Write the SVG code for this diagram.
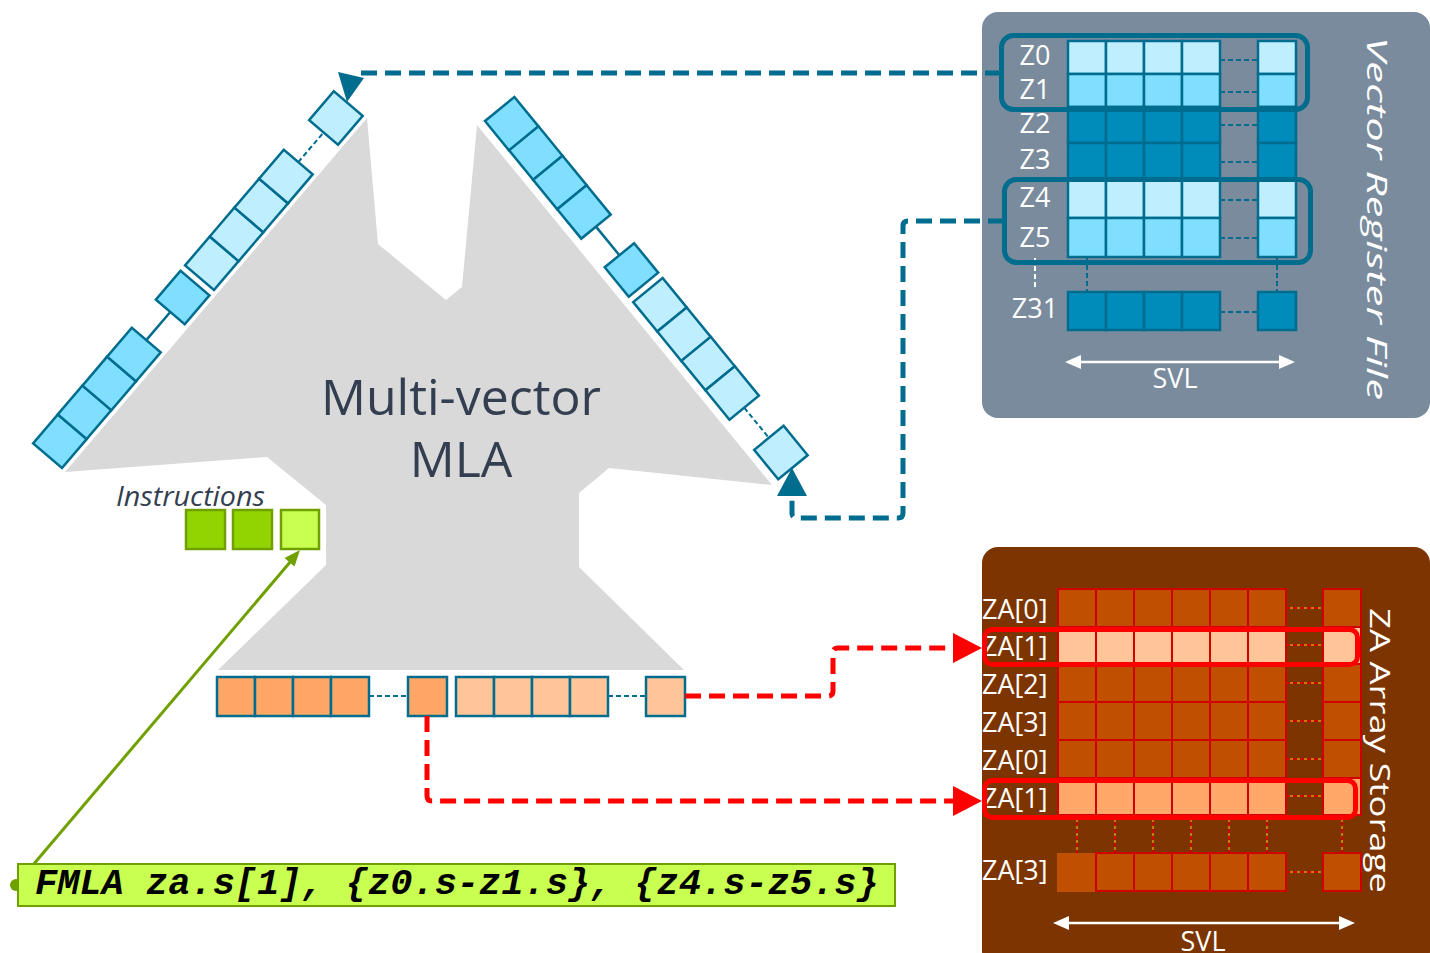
<svg xmlns="http://www.w3.org/2000/svg" width="1430" height="953" viewBox="0 0 1430 953">
<style>
.vl{fill:#BFEFFF;stroke:#006C8E;stroke-width:2.5}
.vm{fill:#80DFFF;stroke:#006C8E;stroke-width:2.5}
.vd{fill:#008CBA;stroke:#006C8E;stroke-width:2.5}
.ol{fill:#FFC599;stroke:#006C8E;stroke-width:2.5}
.od{fill:#FFA766;stroke:#006C8E;stroke-width:2.5}
.bd{fill:none;stroke:#006C8E;stroke-width:2;stroke-dasharray:5 3}
.bs{fill:none;stroke:#006C8E;stroke-width:2.5}
.wl{font-family:"Open Sans","Liberation Sans",sans-serif;fill:#FFFFFF;font-size:27px}
.za{fill:#C05000;stroke:#D00000;stroke-width:2}
.zal{fill:#FFC599;stroke:#D00000;stroke-width:2}
.zam{fill:#FFA86A;stroke:#D00000;stroke-width:2}
.rd{fill:none;stroke:#D00000;stroke-width:2;stroke-dasharray:4 3}
.hl{fill:none;stroke:#FF0000;stroke-width:5}
.bconn{fill:none;stroke:#006C8E;stroke-width:5;stroke-dasharray:16 8}
.rconn{fill:none;stroke:#FF0000;stroke-width:5;stroke-dasharray:16 8}
.ins{stroke:#70A000;stroke-width:2.5}
.dark{font-family:"Open Sans","Liberation Sans",sans-serif;fill:#333F50}
</style>
<defs>
<g id="strip">
<rect class="vm" x="0" y="-38" width="38" height="38"/>
<rect class="vm" x="38" y="-38" width="38" height="38"/>
<rect class="vm" x="76" y="-38" width="38" height="38"/>
<rect class="vm" x="114" y="-38" width="38" height="38"/>
<path class="bs" d="M152,-19 H189"/>
<rect class="vm" x="189" y="-38" width="38" height="38"/>
<rect class="vl" x="234" y="-38" width="38" height="38"/>
<rect class="vl" x="272" y="-38" width="38" height="38"/>
<rect class="vl" x="310" y="-38" width="38" height="38"/>
<rect class="vl" x="348" y="-38" width="38" height="38"/>
<path class="bd" d="M386,-19 H425"/>
<rect class="vl" x="425" y="-38" width="38" height="38"/>
</g>
</defs>

<g id="mla-core">
<polygon fill="#D9D9D9" points="65,472 367,118 378,244 446,300 462,287 477,125 772,485 609,468 579,493 579,567 684,670 218,670 326,565 326,505 267,457"/>
<text class="dark" x="461" y="415" font-size="50" text-anchor="middle">Multi-vector</text>
<text class="dark" x="461" y="477" font-size="50" text-anchor="middle">MLA</text>
</g>

<g id="vector-register-file">
<rect x="982" y="12" width="448" height="406" rx="16" fill="#7A8B9D"/>
<g>
<rect class="vl" x="1068" y="41" width="38" height="33"/><rect class="vl" x="1106" y="41" width="38" height="33"/><rect class="vl" x="1144" y="41" width="38" height="33"/><rect class="vl" x="1182" y="41" width="38" height="33"/><rect class="vl" x="1258" y="41" width="38" height="33"/>
<rect class="vm" x="1068" y="74" width="38" height="33"/><rect class="vm" x="1106" y="74" width="38" height="33"/><rect class="vm" x="1144" y="74" width="38" height="33"/><rect class="vm" x="1182" y="74" width="38" height="33"/><rect class="vm" x="1258" y="74" width="38" height="33"/>
<rect class="vd" x="1068" y="107" width="38" height="36"/><rect class="vd" x="1106" y="107" width="38" height="36"/><rect class="vd" x="1144" y="107" width="38" height="36"/><rect class="vd" x="1182" y="107" width="38" height="36"/><rect class="vd" x="1258" y="107" width="38" height="36"/>
<rect class="vd" x="1068" y="143" width="38" height="36"/><rect class="vd" x="1106" y="143" width="38" height="36"/><rect class="vd" x="1144" y="143" width="38" height="36"/><rect class="vd" x="1182" y="143" width="38" height="36"/><rect class="vd" x="1258" y="143" width="38" height="36"/>
<rect class="vl" x="1068" y="179" width="38" height="39"/><rect class="vl" x="1106" y="179" width="38" height="39"/><rect class="vl" x="1144" y="179" width="38" height="39"/><rect class="vl" x="1182" y="179" width="38" height="39"/><rect class="vl" x="1258" y="179" width="38" height="39"/>
<rect class="vm" x="1068" y="218" width="38" height="39"/><rect class="vm" x="1106" y="218" width="38" height="39"/><rect class="vm" x="1144" y="218" width="38" height="39"/><rect class="vm" x="1182" y="218" width="38" height="39"/><rect class="vm" x="1258" y="218" width="38" height="39"/>
<rect class="vd" x="1068" y="292" width="38" height="38"/><rect class="vd" x="1106" y="292" width="38" height="38"/><rect class="vd" x="1144" y="292" width="38" height="38"/><rect class="vd" x="1182" y="292" width="38" height="38"/><rect class="vd" x="1258" y="292" width="38" height="38"/>
</g>
<path class="bd" d="M1220,60 H1258 M1220,92 H1258 M1220,125 H1258 M1220,162 H1258 M1220,200 H1258 M1220,238 H1258 M1220,312 H1258 M1087,257 V292 M1277,257 V292"/>
<path d="M1035,258 V290" fill="none" stroke="#FFFFFF" stroke-width="2" stroke-dasharray="5 3"/>
<text class="wl" x="1035" y="65" text-anchor="middle">Z0</text>
<text class="wl" x="1035" y="99" text-anchor="middle">Z1</text>
<text class="wl" x="1035" y="133" text-anchor="middle">Z2</text>
<text class="wl" x="1035" y="169" text-anchor="middle">Z3</text>
<text class="wl" x="1035" y="207" text-anchor="middle">Z4</text>
<text class="wl" x="1035" y="247" text-anchor="middle">Z5</text>
<text class="wl" x="1035" y="318" text-anchor="middle">Z31</text>
<rect x="1001.5" y="35.5" width="306" height="74" rx="12" fill="none" stroke="#006C8E" stroke-width="5"/>
<rect x="1004.5" y="179.5" width="306" height="83" rx="12" fill="none" stroke="#006C8E" stroke-width="5"/>
<path d="M1078,362 H1282" stroke="#FFFFFF" stroke-width="2.5"/>
<polygon fill="#FFFFFF" points="1065,362 1081,355 1081,369"/>
<polygon fill="#FFFFFF" points="1295,362 1279,355 1279,369"/>
<text class="wl" x="1175" y="388" font-size="24" text-anchor="middle">SVL</text>
<text class="wl" transform="translate(1367,37) rotate(90)" font-size="43" font-style="italic" textLength="363" lengthAdjust="spacingAndGlyphs">Vector Register File</text>
</g>

<g id="za-array-storage">
<rect x="982" y="547" width="448" height="420" rx="16" fill="#7C3400"/>
<g>
<rect class="za" x="1058" y="589" width="38" height="38"/><rect class="za" x="1096" y="589" width="38" height="38"/><rect class="za" x="1134" y="589" width="38" height="38"/><rect class="za" x="1172" y="589" width="38" height="38"/><rect class="za" x="1210" y="589" width="38" height="38"/><rect class="za" x="1248" y="589" width="38" height="38"/><rect class="za" x="1323" y="589" width="38" height="38"/>
<rect class="zal" x="1058" y="627" width="38" height="37"/><rect class="zal" x="1096" y="627" width="38" height="37"/><rect class="zal" x="1134" y="627" width="38" height="37"/><rect class="zal" x="1172" y="627" width="38" height="37"/><rect class="zal" x="1210" y="627" width="38" height="37"/><rect class="zal" x="1248" y="627" width="38" height="37"/><rect class="zal" x="1323" y="627" width="38" height="37"/>
<rect class="za" x="1058" y="664" width="38" height="38"/><rect class="za" x="1096" y="664" width="38" height="38"/><rect class="za" x="1134" y="664" width="38" height="38"/><rect class="za" x="1172" y="664" width="38" height="38"/><rect class="za" x="1210" y="664" width="38" height="38"/><rect class="za" x="1248" y="664" width="38" height="38"/><rect class="za" x="1323" y="664" width="38" height="38"/>
<rect class="za" x="1058" y="702" width="38" height="38"/><rect class="za" x="1096" y="702" width="38" height="38"/><rect class="za" x="1134" y="702" width="38" height="38"/><rect class="za" x="1172" y="702" width="38" height="38"/><rect class="za" x="1210" y="702" width="38" height="38"/><rect class="za" x="1248" y="702" width="38" height="38"/><rect class="za" x="1323" y="702" width="38" height="38"/>
<rect class="za" x="1058" y="740" width="38" height="38"/><rect class="za" x="1096" y="740" width="38" height="38"/><rect class="za" x="1134" y="740" width="38" height="38"/><rect class="za" x="1172" y="740" width="38" height="38"/><rect class="za" x="1210" y="740" width="38" height="38"/><rect class="za" x="1248" y="740" width="38" height="38"/><rect class="za" x="1323" y="740" width="38" height="38"/>
<rect class="zam" x="1058" y="778" width="38" height="37"/><rect class="zam" x="1096" y="778" width="38" height="37"/><rect class="zam" x="1134" y="778" width="38" height="37"/><rect class="zam" x="1172" y="778" width="38" height="37"/><rect class="zam" x="1210" y="778" width="38" height="37"/><rect class="zam" x="1248" y="778" width="38" height="37"/><rect class="zam" x="1323" y="778" width="38" height="37"/>
<rect x="1057" y="853" width="39" height="39" fill="#C05000"/><rect class="za" x="1096" y="853" width="38" height="38"/><rect class="za" x="1134" y="853" width="38" height="38"/><rect class="za" x="1172" y="853" width="38" height="38"/><rect class="za" x="1210" y="853" width="38" height="38"/><rect class="za" x="1248" y="853" width="38" height="38"/><rect class="za" x="1323" y="853" width="38" height="38"/>
</g>
<path d="M1286,608 H1323 M1286,645 H1323 M1286,683 H1323 M1286,721 H1323 M1286,759 H1323 M1286,796 H1323 M1286,872 H1323 M1077,815 V853 M1115,815 V853 M1153,815 V853 M1191,815 V853 M1229,815 V853 M1267,815 V853 M1342,815 V853" fill="none" stroke="#FFD000" stroke-width="1"/>
<path class="rd" d="M1286,608 H1323 M1286,645 H1323 M1286,683 H1323 M1286,721 H1323 M1286,759 H1323 M1286,796 H1323 M1286,872 H1323 M1077,815 V853 M1115,815 V853 M1153,815 V853 M1191,815 V853 M1229,815 V853 M1267,815 V853 M1342,815 V853"/>
<text class="wl" x="982" y="619">ZA[0]</text>
<text class="wl" x="982" y="656">ZA[1]</text>
<text class="wl" x="982" y="694">ZA[2]</text>
<text class="wl" x="982" y="732">ZA[3]</text>
<text class="wl" x="982" y="770">ZA[0]</text>
<text class="wl" x="982" y="808">ZA[1]</text>
<text class="wl" x="982" y="880">ZA[3]</text>
<rect class="hl" x="984.5" y="629.5" width="373" height="35" rx="8"/>
<rect class="hl" x="984.5" y="780.5" width="371" height="37" rx="8"/>
<path d="M1067,923 H1341" stroke="#FFFFFF" stroke-width="2.5"/>
<polygon fill="#FFFFFF" points="1053,923 1069,916 1069,930"/>
<polygon fill="#FFFFFF" points="1355,923 1339,916 1339,930"/>
<text class="wl" x="1203" y="951" font-size="24" text-anchor="middle">SVL</text>
<text class="wl" transform="translate(1370,608) rotate(90)" font-size="38" textLength="285" lengthAdjust="spacingAndGlyphs">ZA Array Storage</text>
</g>

<g id="left-vector-strip">
<use href="#strip" transform="translate(62,468) rotate(-49.5)"/>
</g>

<g id="right-vector-strip">
<use href="#strip" transform="translate(485,121) rotate(50.7)"/>
</g>

<g id="output-strip">
<rect class="od" x="217" y="677" width="38" height="39"/>
<rect class="od" x="255" y="677" width="38" height="39"/>
<rect class="od" x="293" y="677" width="38" height="39"/>
<rect class="od" x="331" y="677" width="38" height="39"/>
<path class="bd" d="M369,696 H408"/>
<rect class="od" x="408" y="677" width="39" height="39"/>
<rect class="ol" x="456" y="677" width="38" height="39"/>
<rect class="ol" x="494" y="677" width="38" height="39"/>
<rect class="ol" x="532" y="677" width="38" height="39"/>
<rect class="ol" x="570" y="677" width="38" height="39"/>
<path class="bd" d="M608,696 H646"/>
<rect class="ol" x="646" y="677" width="39" height="39"/>
</g>

<g id="instruction-queue">
<text class="dark" x="116" y="506" font-size="27" font-style="italic" textLength="149" lengthAdjust="spacingAndGlyphs">Instructions</text>
<rect class="ins" x="186" y="510" width="39" height="39" fill="#92D400"/>
<rect class="ins" x="233" y="510" width="39" height="39" fill="#92D400"/>
<rect class="ins" x="281" y="510" width="38" height="39" fill="#C8FF50"/>
</g>

<g id="connectors">
<path class="bconn" d="M1001,73 H354"/>
<polygon fill="#006C8E" points="338,72 364,78 347,102"/>
<path class="bconn" d="M1004,221 H908 Q903,221 903,226 V513 Q903,518 898,518 H797 Q792,518 792,513 V494"/>
<polygon fill="#006C8E" points="792,468 777,496 807,496"/>
<path class="rconn" d="M685,696 H828 Q833,696 833,691 V653 Q833,648 838,648 H956"/>
<polygon fill="#FF0000" points="953,633 982,648 953,663"/>
<path class="rconn" d="M427,716 V796 Q427,801 432,801 H956"/>
<polygon fill="#FF0000" points="953,786 982,801 953,816"/>
<circle cx="16" cy="885" r="6" fill="#70A000"/>
<path d="M16,885 L291,561" stroke="#70A000" stroke-width="3" fill="none"/>
<polygon fill="#70A000" points="300,550 294.5,566.5 284.5,558"/>
</g>

<g id="fmla-instruction">
<rect x="18" y="864" width="877" height="42" fill="#C8FF50" stroke="#70A000" stroke-width="2"/>
<text x="35" y="894" font-family="'Liberation Mono','Courier New',monospace" font-size="37" font-weight="bold" font-style="italic" fill="#000000">FMLA za.s[1], {z0.s-z1.s}, {z4.s-z5.s}</text>
</g>
</svg>
